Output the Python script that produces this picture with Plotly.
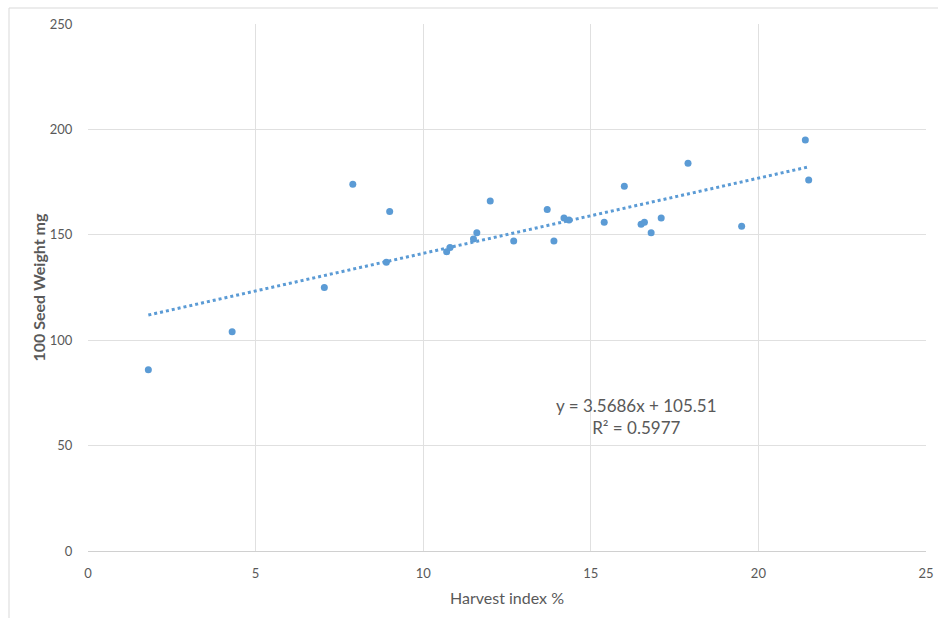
import plotly.graph_objects as go

# Harvest index (%) and 100-seed weight (mg) per line
harvest_index = [1.8, 4.3, 7.05, 7.9, 8.9, 9.0, 10.7, 10.8, 11.5, 11.6, 12.0, 12.7,
                 13.7, 13.9, 14.2, 14.35, 15.4, 16.0, 16.5, 16.6, 16.8, 17.1,
                 17.9, 19.5, 21.4, 21.5]
seed_weight = [86, 104, 125, 174, 137, 161, 142, 144, 148, 151, 166, 147,
               162, 147, 158, 157, 156, 173, 155, 156, 151, 158,
               184, 154, 195, 176]

# Linear trendline coefficients
slope = 3.5686
intercept = 105.51
r_squared = 0.5977

x_ticks = [0, 5, 10, 15, 20, 25]
y_ticks = [0, 50, 100, 150, 200, 250]

trend_x = [min(harvest_index), max(harvest_index)]
trend_y = [slope * v + intercept for v in trend_x]

blue = "#5B9BD5"
grey_text = "#595959"
grid = "#E0E0E0"
font_family = "Lato, 'Open Sans', sans-serif"

W, H = 938, 618
ml, mr, mt, mb = 88, 12, 24, 67
pw, ph = W - ml - mr, H - mt - mb

fig = go.Figure()
fig.add_trace(go.Scatter(
    x=trend_x, y=trend_y, mode="lines",
    line=dict(color=blue, width=3, dash="dot"),
    hoverinfo="skip", showlegend=False,
))
fig.add_trace(go.Scatter(
    x=harvest_index, y=seed_weight, mode="markers",
    marker=dict(color=blue, size=7),
    showlegend=False,
))

# Trendline equation
fig.add_annotation(
    x=16.35, y=64, xref="x", yref="y",
    text=f"y = {slope}x + {intercept}<br>R² = {r_squared}",
    showarrow=False, align="center",
    font=dict(family=font_family, size=17, color=grey_text),
)

# Axis titles
fig.add_annotation(
    x=0.5, y=(H - mb - 597) / ph, xref="paper", yref="paper",
    xanchor="center", yanchor="middle",
    text="Harvest index %", showarrow=False,
    font=dict(family=font_family, size=16, color=grey_text),
)
fig.add_annotation(
    x=(38 - ml) / pw, y=0.5, xref="paper", yref="paper",
    xanchor="center", yanchor="middle",
    text="<b>100 Seed Weight mg</b>", showarrow=False, textangle=-90,
    font=dict(family=font_family, size=16, color=grey_text),
)

# Chart frame
fig.add_shape(
    type="rect", xref="paper", yref="paper",
    x0=(9 - ml) / pw, x1=(W + 20 - ml) / pw,
    y0=(H - mb - (H + 20)) / ph, y1=(H - mb - 8) / ph,
    line=dict(color="#D9D9D9", width=1), layer="below",
)

fig.update_layout(
    width=W, height=H,
    margin=dict(l=ml, r=mr, t=mt, b=mb, autoexpand=False),
    paper_bgcolor="white", plot_bgcolor="white",
    font=dict(family=font_family, size=13, color=grey_text),
    xaxis=dict(
        range=[0, 25], tickvals=x_ticks, showgrid=True, gridcolor=grid,
        zeroline=False, showline=True, linecolor="#D0D0D0",
        ticks="outside", ticklen=10, tickcolor="rgba(0,0,0,0)",
        automargin=False, tickfont=dict(size=13, color=grey_text),
    ),
    yaxis=dict(
        range=[0, 250], tickvals=y_ticks, showgrid=True, gridcolor=grid,
        zeroline=False, showline=False,
        ticks="outside", ticklen=12, tickcolor="rgba(0,0,0,0)",
        automargin=False, tickfont=dict(size=13, color=grey_text),
    ),
)

fig.write_html("out.html")
